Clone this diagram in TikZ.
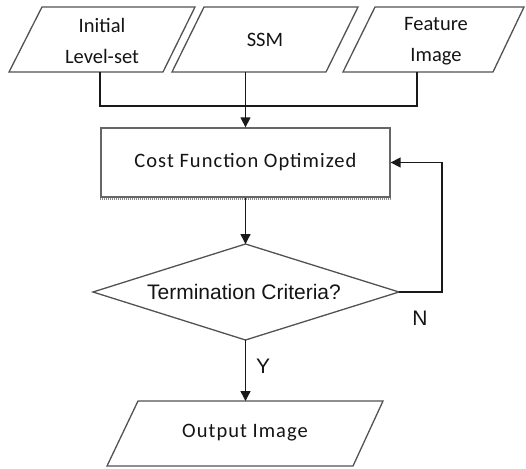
\documentclass[tikz,border=0pt]{standalone}
\usepackage{fontspec}
\newfontfamily\carlito{Carlito}
\newfontfamily\carlitowide[LetterSpace=5]{Carlito}
\newfontfamily\liber{Liberation Sans}
\usetikzlibrary{arrows.meta}

\begin{document}
\begin{tikzpicture}[x=1pt,y=-1pt,
  outline/.style={draw=black!68, line width=1.3pt, line join=miter},
  link/.style={draw=black!90, line width=1.4pt},
  arr/.style={link, -{Triangle[length=10pt,width=10pt]}},
  lbl/.style={font=\carlito\fontsize{20.5}{31}\selectfont, align=center, text=black!92, inner sep=0pt},
  widelbl/.style={font=\carlitowide\fontsize{20.5}{31}\selectfont, align=center, text=black!92, inner sep=0pt},
  dlbl/.style={font=\liber\fontsize{21}{24}\selectfont, text=black!92, inner sep=0pt},
  procbox/.style={outline, draw=black!60, minimum width=289pt, minimum height=69pt, inner sep=0pt}
]
\useasboundingbox (0,0) rectangle (526,468);

% input parallelograms
\draw[outline] (42,7) -- (195,7) -- (163,72) -- (9,72) -- cycle;
\node[lbl] (init) at (102,41) {Initial\\Level-set};
\draw[outline] (204,7) -- (358,7) -- (326,72) -- (172,72) -- cycle;
\node[lbl] (ssm) at (265,40) {SSM};
\draw[outline] (375,7) -- (524,7) -- (493,72) -- (343,72) -- cycle;
\node[lbl] (feat) at (436,41) {Feature\\Image};

\coordinate (initOut) at (100,72);
\coordinate (ssmOut) at (245.5,72);
\coordinate (featOut) at (417,72);
\coordinate (join) at (417,106);

% optimisation step
\node[procbox, widelbl] (cost) at (245.5,162.5) {Cost Function Optimized};
\draw[draw=black!45, line width=2pt, dash pattern=on 1pt off 1pt]
  ([yshift=-1.6pt]cost.south west) -- ([yshift=-1.6pt]cost.south east);

% merging the inputs
\draw[link] (initOut) |- (join) -- (featOut);
\draw[arr] (ssmOut) -- (cost.north);

% decision
\coordinate (dtop) at (245.5,244);
\coordinate (dright) at (399,292);
\coordinate (dbot) at (245.5,340);
\coordinate (dleft) at (93,292);
\draw[outline] (dtop) -- (dright) -- (dbot) -- (dleft) -- cycle;
\node[dlbl] (term) at (244,292) {Termination Criteria?};
\draw[arr] (cost.south) -- (dtop);

% feedback loop
\coordinate (loop) at (442,292);
\draw[arr] (dright) -- (loop) |- (cost.east);
\node[dlbl] (nlab) at (420,318) {N};

% result
\coordinate (outTop) at (245.5,401);
\draw[outline] (138,401) -- (383,401) -- (353,466) -- (107,466) -- cycle;
\node[widelbl] (out) at (245,433) {Output Image};
\draw[arr] (dbot) -- (outTop);
\node[dlbl] (ylab) at (263,366) {Y};
\end{tikzpicture}
\end{document}
